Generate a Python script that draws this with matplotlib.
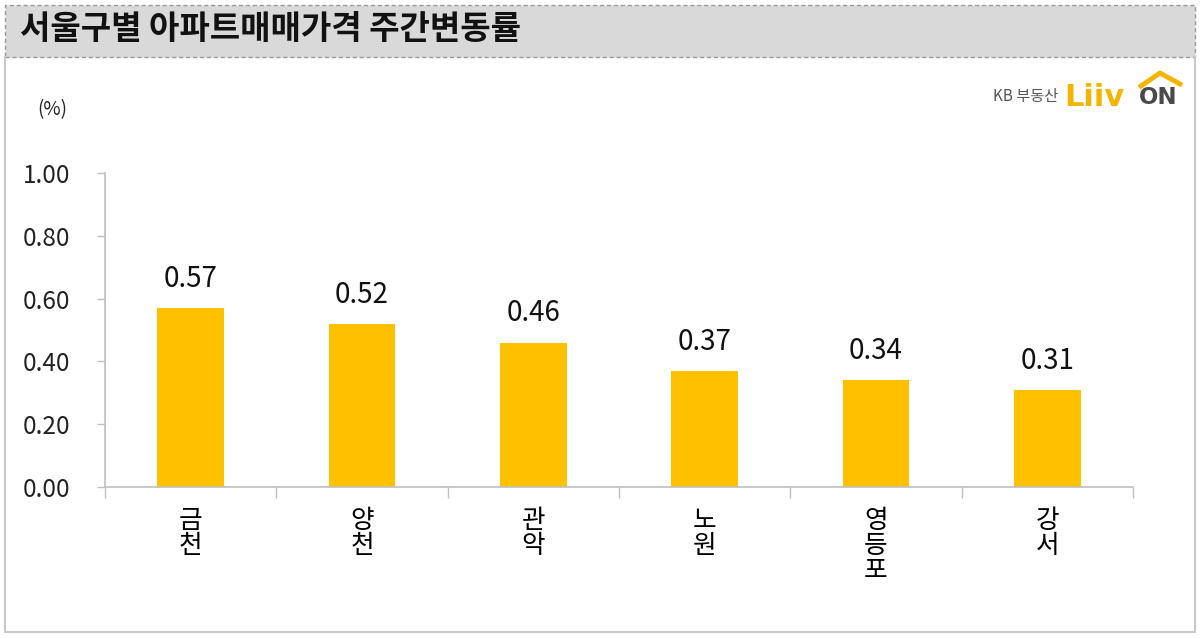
import matplotlib
matplotlib.use("Agg")
import matplotlib.pyplot as plt
from matplotlib.patches import Rectangle
from matplotlib.lines import Line2D
import numpy as np

plt.rcParams['font.family'] = ['Noto Sans CJK KR', 'DejaVu Sans']

title = '서울구별 아파트매매가격 주간변동률'
districts = ['금천', '양천', '관악', '노원', '영등포', '강서']
changes = [0.57, 0.52, 0.46, 0.37, 0.34, 0.31]
y_ticks = [0.0, 0.2, 0.4, 0.6, 0.8, 1.0]

fig = plt.figure(figsize=(12, 6.39), dpi=100)

# title bar and outer frame
fig.patches.append(Rectangle((5 / 1200, 1 - 57 / 639), 1190 / 1200, 52 / 639,
                             transform=fig.transFigure, facecolor='#d9d9d9',
                             edgecolor='#9a9a9a', linestyle=(0, (3, 2)), linewidth=1))
fig.lines.append(Line2D([5 / 1200, 5 / 1200, 1195 / 1200, 1195 / 1200],
                        [1 - 57 / 639, 1 - 632 / 639, 1 - 632 / 639, 1 - 57 / 639],
                        transform=fig.transFigure, color='#c8c8c8', linewidth=1.5))
fig.text(20 / 1200, 1 - 30 / 639, title, fontsize=23.8, fontweight='bold',
         va='center', ha='left', color='#111111')

# logo
fig.text(1058 / 1200, 1 - 96 / 639, 'KB 부동산', fontsize=11, color='#555555',
         ha='right', va='center')
fig.text(1064 / 1200, 1 - 97 / 639, 'Liiv', fontsize=22, fontweight='black',
         color='#f5b400', ha='left', va='center', family='DejaVu Sans')
fig.text(1139 / 1200, 1 - 97 / 639, 'ON', fontsize=16.5, fontweight='black',
         color='#4a4a4a', ha='left', va='center', family='DejaVu Sans')
fig.lines.append(Line2D([1141 / 1200, 1160 / 1200, 1180 / 1200],
                        [1 - 86 / 639, 1 - 73 / 639, 1 - 84 / 639],
                        transform=fig.transFigure, color='#f5b400', linewidth=3.5))

fig.text(52 / 1200, 1 - 110 / 639, '(%)', fontsize=13.5, ha='center', va='center',
         color='#222222')

ax = fig.add_axes([105 / 1200, 1 - 487 / 639, 1028 / 1200, 314 / 639])
x = np.arange(len(districts))
bars = ax.bar(x, changes, width=0.39, color='#ffc000')
for xi, v in zip(x, changes):
    ax.text(xi, v + 0.045, f'{v:.2f}', ha='center', va='bottom', fontsize=20,
            color='#111111')

ax.set_xlim(-0.5, len(districts) - 0.5)
ax.set_ylim(0, 1.0)
ax.set_yticks(y_ticks)
ax.set_yticklabels([f'{t:.2f}' for t in y_ticks], fontsize=17.5, color='#222222')
ax.tick_params(axis='y', length=6, pad=19, color='#bfbfbf', width=1)
ax.set_xticks(x)
ax.set_xticklabels(['\n'.join(d) for d in districts], fontsize=18.5,
                   linespacing=0.95, va='top')
ax.tick_params(axis='x', length=0, pad=15)
ax.set_xticks(np.arange(len(districts) + 1) - 0.5, minor=True)
ax.tick_params(axis='x', which='minor', length=8, color='#bfbfbf', width=1)

for s in ['top', 'right']:
    ax.spines[s].set_visible(False)
for s in ['left', 'bottom']:
    ax.spines[s].set_color('#bfbfbf')
    ax.spines[s].set_linewidth(1.2)

fig.savefig('out.png', dpi=100)
